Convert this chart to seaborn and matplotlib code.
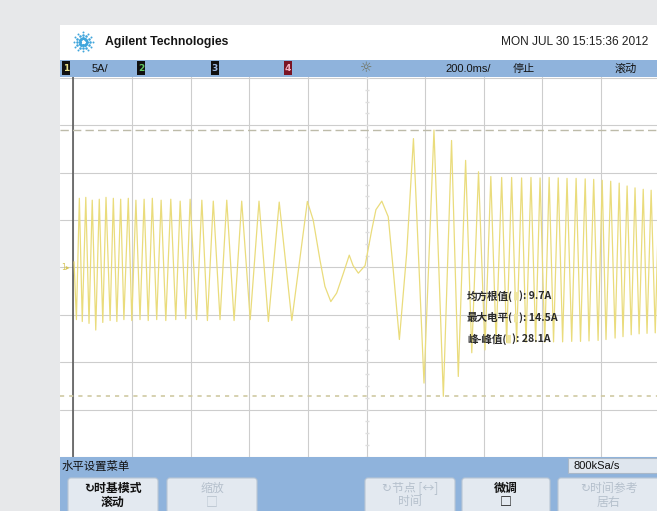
import numpy as np
import pandas as pd
import matplotlib
matplotlib.use("Agg")
import matplotlib.pyplot as plt
from matplotlib.patches import Rectangle, FancyBboxPatch
import seaborn as sns

# waveform vertices (time in ms, current in A)
t_steady = [2, 10, 20, 30, 42, 53, 64, 76, 88, 100, 111, 125, 136, 148, 161, 172, 187, 199,
            213, 227, 241, 255, 269, 284, 299, 315, 332, 349, 364, 383, 398, 420, 438, 457,
            477, 500, 523, 548, 574, 603, 633, 665, 702, 745]
i_steady = [0.6, -5.5, 7.3, -5.7, 7.4, -5.9, 7.1, -6.6, 7.2, -5.8, 7.4, -5.6, 7.3, -5.7, 7.2,
            -5.5, 7.3, -5.6, 7.1, -5.5, 7.2, -5.6, 7.3, -5.5, 7.1, -5.6, 7.2, -5.5, 7.0, -5.4,
            7.2, -5.5, 7.1, -5.6, 7.0, -5.5, 7.1, -5.6, 7.0, -5.5, 7.0, -5.7, 6.9, -5.6]

t_fault = [798, 818, 841, 858, 878, 898, 921, 941, 954, 972, 995, 1018, 1032, 1052, 1074,
           1091, 1112, 1137, 1160, 1196, 1230, 1262, 1290, 1313, 1338, 1359, 1382, 1404, 1424]
i_fault = [6.97, 5.0, 0.8, -2.0, -3.6, -2.7, -0.6, 1.3, 0.2, -0.6, 0.2, 4.0, 6.1, 7.0, 5.35,
           -0.25, -7.6, 1.55, 13.6, -12.2, 14.5, -13.6, 13.4, -11.5, 11.3, -9.0, 10.1, -8.7, 9.6]

t_recover = [1442, 1461, 1478, 1495, 1512, 1529, 1544, 1561, 1577, 1592, 1608, 1623, 1638,
             1654, 1669, 1684, 1700, 1715, 1730, 1746, 1759, 1775, 1790, 1804, 1817, 1833,
             1848, 1862, 1875, 1889, 1903, 1916, 1930, 1944, 1957, 1971, 1985, 1998]
i_recover = [-7.9, 9.5, -7.9, 9.5, -7.85, 9.45, -7.9, 9.5, -7.85, 9.45, -7.9, 9.5, -7.85,
             9.45, -7.85, 9.4, -7.8, 9.4, -7.8, 9.35, -7.75, 9.3, -7.7, 9.2, -7.6, 9.1,
             -7.45, 8.9, -7.3, 8.6, -7.1, 8.4, -7.0, 8.25, -6.95, 8.15, -6.9, 8.1]

max_level = 14.5
min_level = -13.6

meas_names = ["均方根值", "最大电平", "峰-峰值"]
meas_values = ["9.7A", "14.5A", "28.1A"]

header_date = "MON JUL 30 15:15:36 2012"
timebase = "200.0ms/"
sample_rate = "800kSa/s"

buttons = [("↻时基模式", "滚动", True),
           ("缩放", "□", False),
           ("↻节点 [↔]", "时间", False),
           ("微调", "□", True),
           ("↻时间参考", "居右", False)]

df = pd.DataFrame({"t": t_steady + t_fault + t_recover,
                   "i": i_steady + i_fault + i_recover})

sns.set_style("white")
plt.rcParams["font.family"] = ["Noto Sans CJK SC", "DejaVu Sans"]

W, H = 657, 511
fig = plt.figure(figsize=(W / 100, H / 100), dpi=100)
fig.patch.set_facecolor("#e7e8ea")


def box(x0, y0, x1, y1):
    return [x0 / W, 1 - y1 / H, (x1 - x0) / W, (y1 - y0) / H]


BLUE = "#8fb3dc"

# background: screen panel, header, status bar
bg = fig.add_axes([0, 0, 1, 1], zorder=0)
bg.set_xlim(0, W)
bg.set_ylim(H, 0)
bg.axis("off")
bg.add_patch(Rectangle((60, 25), 600, 490, fc="white", ec="none"))
bg.add_patch(Rectangle((60, 60), 600, 17, fc=BLUE, ec="none"))

# logo spark
for ang in np.arange(0, 360, 30):
    a = np.deg2rad(ang)
    for r, s in [(3.5, 5), (6.5, 3.5), (9.5, 2)]:
        bg.scatter(83 + r * np.cos(a), 42 + r * np.sin(a), s=s, color="#41a6dc", lw=0)
bg.text(105, 42, "Agilent Technologies", ha="left", va="center", fontsize=8.8,
        fontweight="bold", family="Liberation Sans", color="#151515")
bg.text(648, 42, header_date, ha="right", va="center", fontsize=8.6,
        family="Liberation Sans", color="#202020")

chan = [(62, "1", "#101010", "#e8e08a"), (137, "2", "#101010", "#62c862"),
        (211, "3", "#101010", "#9cb8e2"), (284, "4", "#7a1424", "#f3b0c0")]
for x, lab, fc, tc in chan:
    bg.add_patch(Rectangle((x, 61.5), 8, 13.5, fc=fc, ec="none"))
    bg.text(x + 4, 68.5, lab, ha="center", va="center", fontsize=6.5, fontweight="bold",
            color=tc, family="DejaVu Sans")
bg.text(92, 68.5, "5A/", ha="left", va="center", fontsize=8, family="Liberation Sans", color="#151515")
bg.text(366, 68.5, "☼", ha="center", va="center", fontsize=10, family="DejaVu Sans", color="#6f6f58")
bg.text(445, 68.5, timebase, ha="left", va="center", fontsize=8, family="Liberation Sans", color="#151515")
bg.text(513, 68.5, "停止", ha="left", va="center", fontsize=8, color="#151515")
bg.text(615, 68.5, "滚动", ha="left", va="center", fontsize=8, color="#151515")

# waveform display
ax = fig.add_axes(box(60, 77, 657, 457), zorder=1)
ax.set_facecolor("white")
for s in ax.spines.values():
    s.set_visible(False)
ax.set_xticks(np.arange(0, 2001, 200))
ax.set_yticks(np.arange(-20, 21, 5))
ax.grid(True, color="#cdcdcd", lw=0.8)
ax.tick_params(length=0, labelbottom=False, labelleft=False)
ax.axvline(0, color="#5c5c5c", lw=1.2, zorder=2)
ax.axhline(max_level, color="#bdbba9", lw=1, ls=(0, (6, 3)), zorder=2)
ax.axhline(min_level, color="#cfc9a2", lw=1.2, ls=(0, (2.5, 3)), zorder=2)
# faint minor ticks on the vertical centre line
minor_y = np.arange(-20, 20.1, 1.25)
ax.plot(np.full_like(minor_y, 1000), minor_y, ls="none", marker="_", ms=2.5,
        color="#dedede", zorder=2)

sns.lineplot(data=df, x="t", y="i", ax=ax, color="#eadc7c", lw=0.9,
             estimator=None, sort=False, zorder=3)
ax.set(xlabel="", ylabel="")
ax.set_xlim(-46, 1991)
ax.set_ylim(-20, 20.1)

# overlay: measurement text and softkey panel
ov = fig.add_axes([0, 0, 1, 1], zorder=3)
ov.set_xlim(0, W)
ov.set_ylim(H, 0)
ov.axis("off")
ov.patch.set_alpha(0)

ov.text(61, 267.7, "1▸", ha="left", va="center", fontsize=5.5, color="#d6c55a",
        family="DejaVu Sans")

for k, (name, val) in enumerate(zip(meas_names, meas_values)):
    y = 296 + k * 21.5
    t1 = ov.text(467, y, name + "(", ha="left", va="center", fontsize=7.6,
                 fontweight="bold", color="#2a2a2a")
    t2 = ov.annotate("▮", xy=(1, 0.5), xycoords=t1, ha="left", va="center",
                     fontsize=7.6, color="#efe6a2", family="DejaVu Sans")
    ov.annotate("): " + val, xy=(1, 0.5), xycoords=t2, ha="left", va="center",
                fontsize=7.6, fontweight="bold", color="#2a2a2a")

ov.add_patch(Rectangle((60, 457), 600, 60, fc=BLUE, ec="none"))
ov.text(62, 466, "水平设置菜单", ha="left", va="center", fontsize=8.2, color="#111111")
ov.add_patch(Rectangle((568, 458.5), 92, 15, fc="#dfe6ee", ec="#aab8c8", lw=0.8))
ov.text(573, 466, sample_rate, ha="left", va="center", fontsize=8,
        family="Liberation Sans", color="#111111")

bx = [(68, 158), (167, 257), (365, 455), (462, 550), (558, 660)]
for (x0, x1), (l1, l2, on) in zip(bx, buttons):
    ov.add_patch(FancyBboxPatch((x0, 478), x1 - x0, 40, boxstyle="round,pad=0,rounding_size=3",
                                fc="#e3e9f0", ec="#b9c6d4", lw=0.8))
    col = "#111111" if on else "#b5c0cc"
    cx = (x0 + x1) / 2
    ov.text(cx, 488, l1, ha="center", va="center", fontsize=8.6, color=col,
            fontweight="bold" if on else "normal")
    ov.text(cx, 502, l2, ha="center", va="center", fontsize=8.6, color=col,
            fontweight="bold" if on else "normal")

fig.savefig("out.png", dpi=100, facecolor=fig.get_facecolor())
